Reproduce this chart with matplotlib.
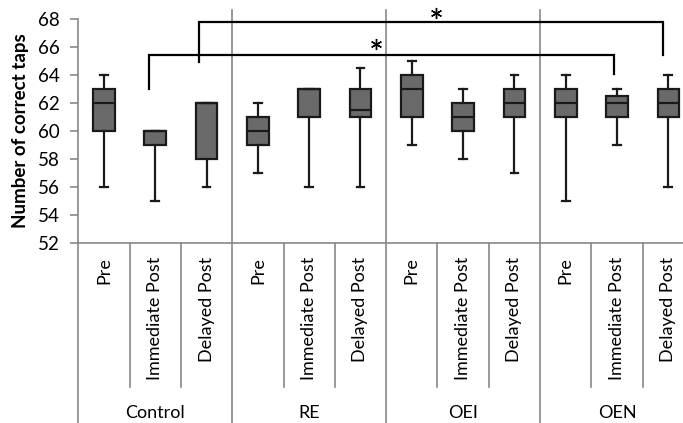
import matplotlib
matplotlib.use("Agg")
import matplotlib.pyplot as plt
from matplotlib.transforms import blended_transform_factory

plt.rcParams['font.family'] = ['Lato', 'DejaVu Sans']

groups = ["Control", "RE", "OEI", "OEN"]
phases = ["Pre", "Immediate Post", "Delayed Post"]

# per box: whisker low, q1, median, q3, whisker high
whis_lo = [56, 55, 56,   57, 56, 56,   59, 58, 57,   55, 59, 56]
q1      = [60, 59, 58,   59, 61, 61,   61, 60, 61,   61, 61, 61]
median  = [62, 60, 62,   60, 63, 61.5, 63, 61, 62,   62, 62, 62]
q3      = [63, 60, 62,   61, 63, 63,   64, 62, 63,   63, 62.5, 63]
whis_hi = [64, 60, 62,   62, 63, 64.5, 65, 63, 64,   64, 63, 64]

# significance brackets: left x, right x, left foot, right foot, bar level
bracket_x0 = [2.85, 1.88]
bracket_x1 = [11.89, 10.94]
bracket_f0 = [64.9, 63.0]
bracket_f1 = [65.4, 64.1]
bracket_lev = [67.75, 65.45]
star_x = [7.47, 6.30]
star_y = [68.43, 66.19]

W, H = 683, 423
fig = plt.figure(figsize=(W / 100, H / 100), dpi=100)
left_px, right_px = 78.3, 694.0
top_px, bot_px = 19.0, 242.7
ax = fig.add_axes([left_px / W, 1 - bot_px / H, (right_px - left_px) / W, (bot_px - top_px) / H])

stats = []
for i in range(12):
    stats.append(dict(whislo=whis_lo[i], q1=q1[i], med=median[i], q3=q3[i],
                      whishi=whis_hi[i], fliers=[]))
edge = '#1a1a1a'
lw = 1.6
ax.bxp(stats, positions=list(range(1, 13)), widths=0.42, patch_artist=True,
       showfliers=False, capwidths=0.15,
       boxprops=dict(facecolor='#6a6a6a', edgecolor=edge, linewidth=lw),
       medianprops=dict(color=edge, linewidth=lw),
       whiskerprops=dict(color=edge, linewidth=lw),
       capprops=dict(color=edge, linewidth=lw))

ax.set_xlim(0.5, 12.5)
ax.set_ylim(52, 68)
ax.set_yticks(range(52, 69, 2))
ax.tick_params(axis='y', labelsize=13.5, length=6, width=1.2, color='#888888', pad=7,
               labelcolor='black')
ax.tick_params(axis='x', length=0, labelbottom=False)
for s in ['top', 'right']:
    ax.spines[s].set_visible(False)
for s in ['left', 'bottom']:
    ax.spines[s].set_color('#888888')
    ax.spines[s].set_linewidth(1.2)

trans = blended_transform_factory(ax.transData, fig.transFigure)
def fy(px):
    return 1 - px / H

grey = '#888888'
# group separators
for xg in [3.5, 6.5, 9.5]:
    ax.plot([xg, xg], [fy(10), fy(H + 2)], transform=trans, color=grey, lw=1.2, clip_on=False)
ax.plot([0.5, 0.5], [fy(bot_px), fy(H + 2)], transform=trans, color=grey, lw=1.2, clip_on=False)
# minor separators
for xm in [1.5, 2.5, 4.5, 5.5, 7.5, 8.5, 10.5, 11.5]:
    ax.plot([xm, xm], [fy(bot_px), fy(387)], transform=trans, color=grey, lw=1.2, clip_on=False)

# category labels
pos = 1
for g in groups:
    for p in phases:
        ax.text(pos, fy(257), p, transform=trans, rotation=90, ha='center', va='top',
                fontsize=13)
        pos += 1
for gi, g in enumerate(groups):
    ax.text(2 + 3 * gi, fy(413), g, transform=trans, ha='center', va='center', fontsize=13)

# brackets
for x0, x1, f0, f1, lev, sx, sy in zip(bracket_x0, bracket_x1, bracket_f0, bracket_f1,
                                       bracket_lev, star_x, star_y):
    ax.plot([x0, x0, x1, x1], [f0, lev, lev, f1], color='black', lw=1.6, clip_on=False,
            solid_joinstyle='miter')
    ax.plot([sx], [sy], marker=(6, 2, 0), ms=8, mew=1.0, color='black', clip_on=False)

fig.text(21 / W, fy(131), 'Number of correct taps', rotation=90, ha='center', va='center',
         fontsize=13.5, fontweight='bold')

fig.savefig('out.png', dpi=100)
